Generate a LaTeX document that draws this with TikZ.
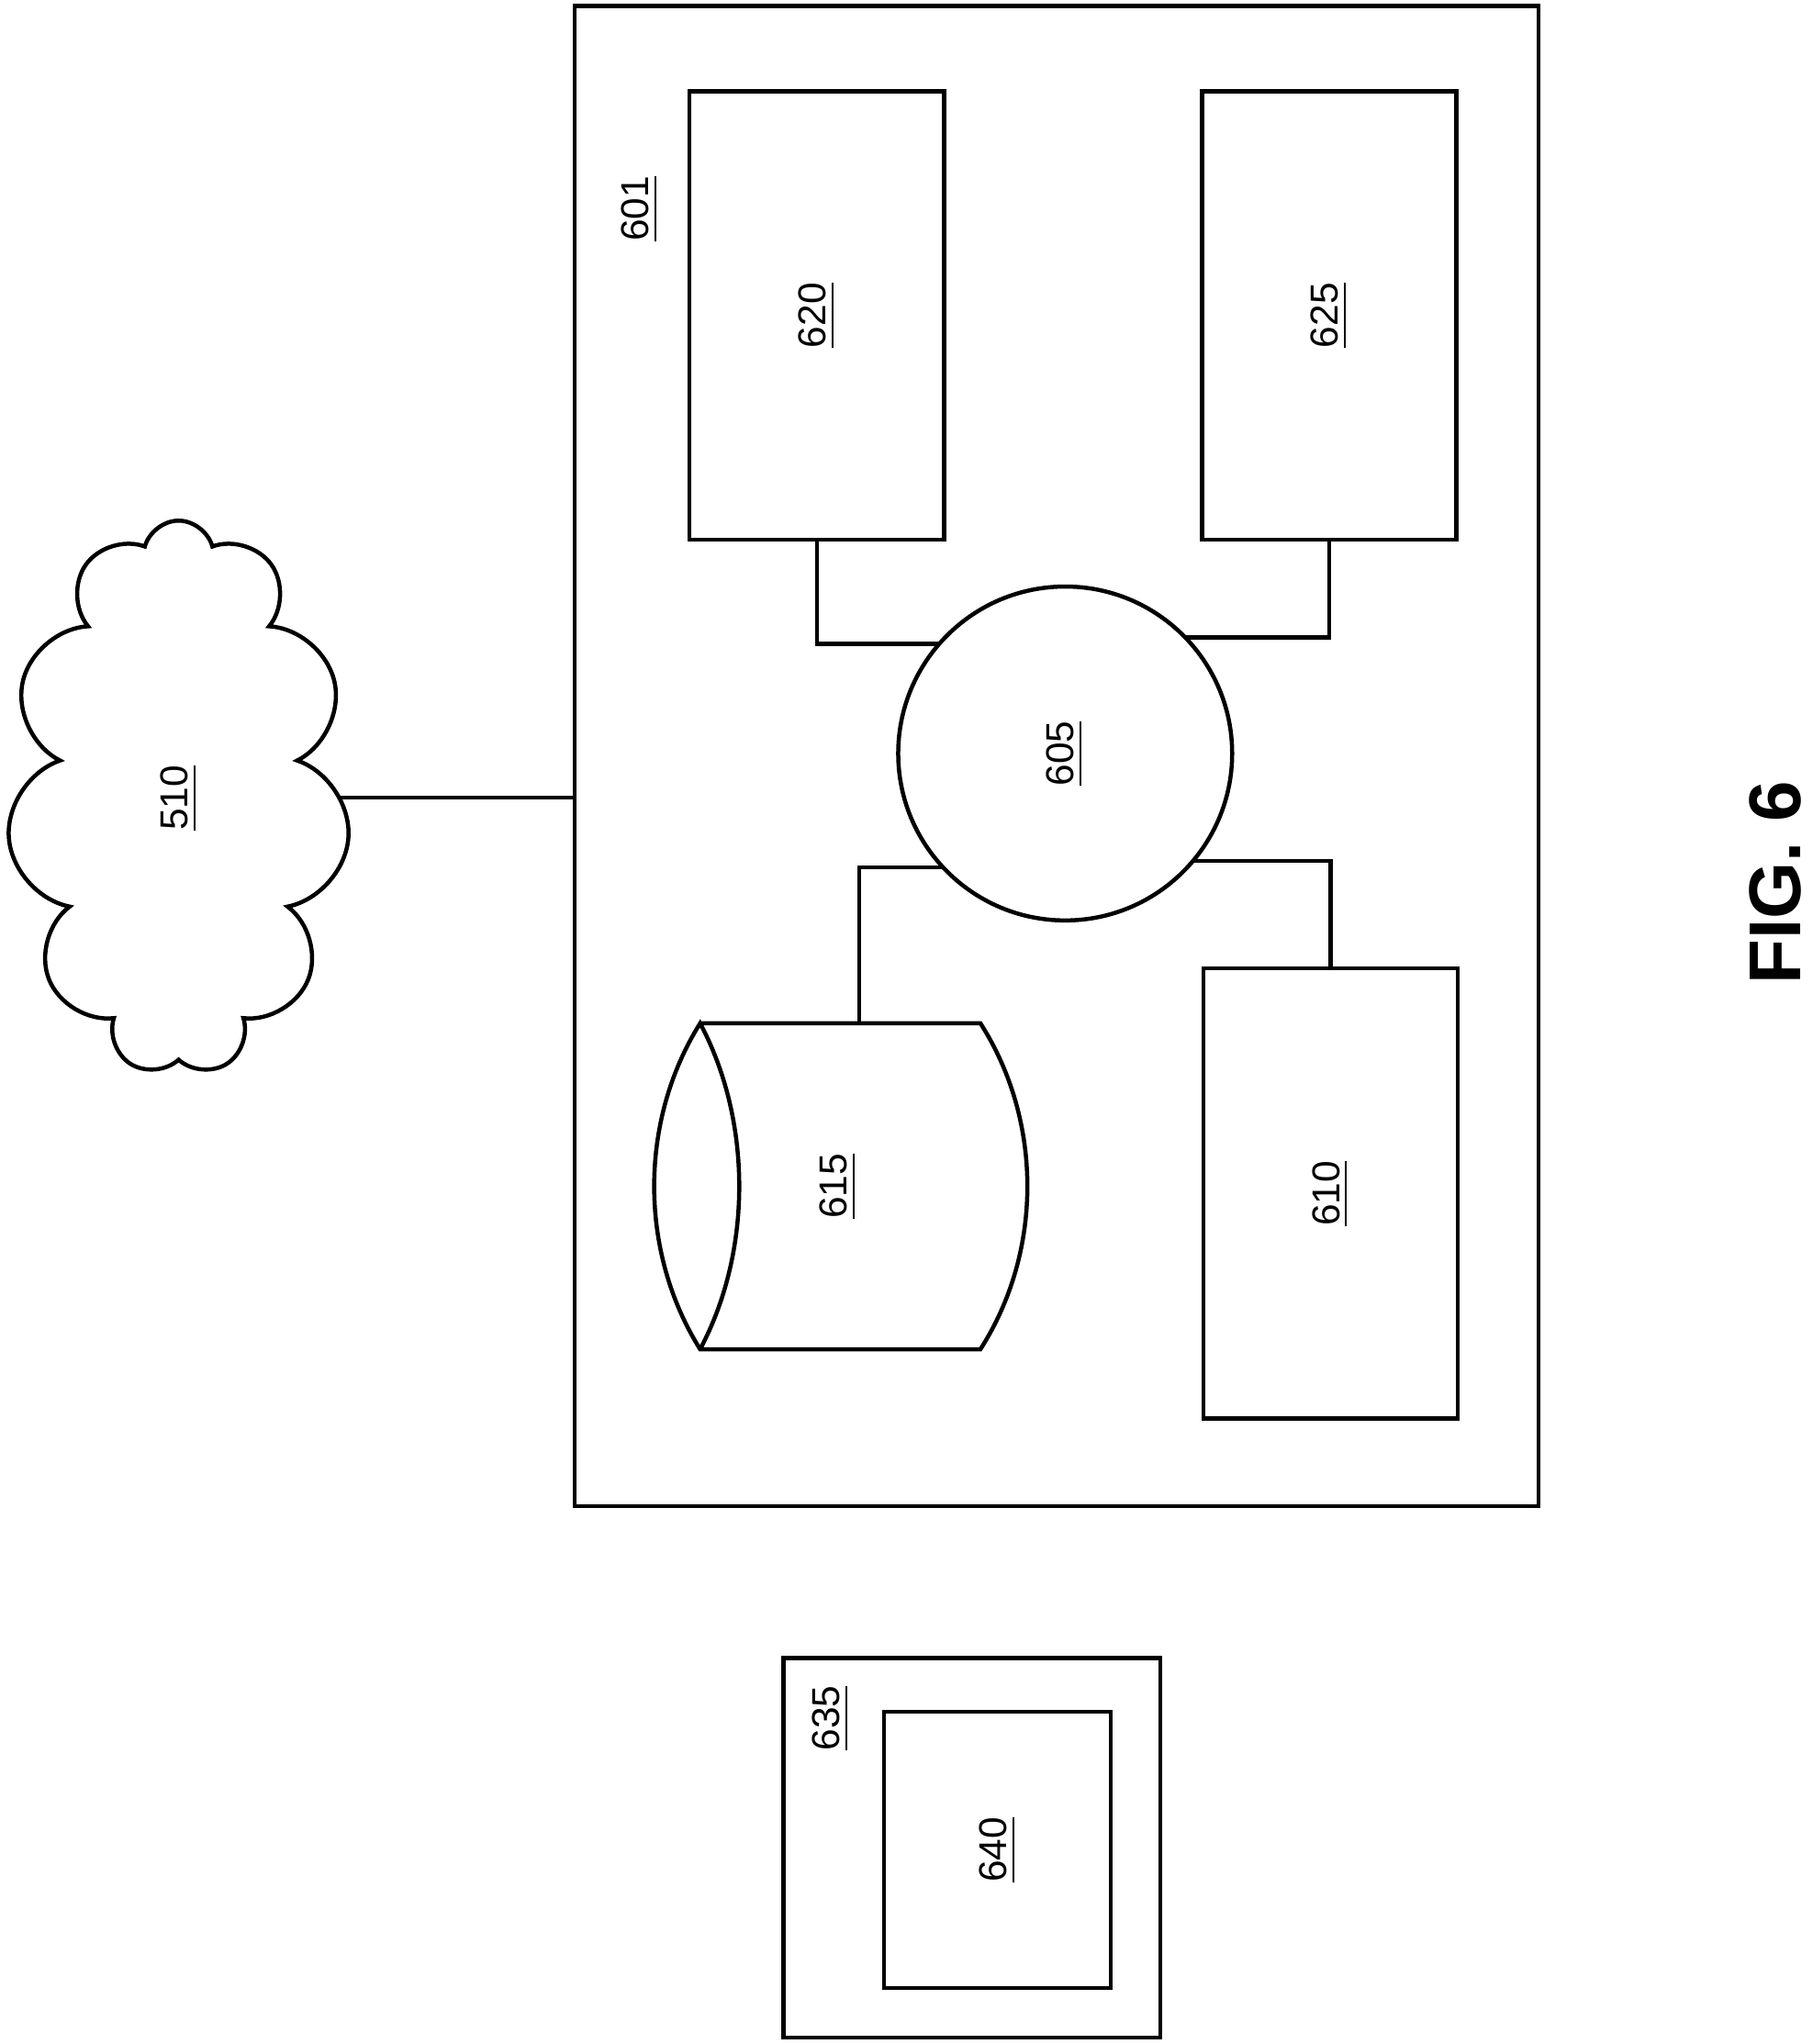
\documentclass[tikz,border=0pt]{standalone}
\usepackage{fontspec}
\setmainfont{Liberation Sans}
\usetikzlibrary{shapes.symbols}
\tikzset{%
  box/.style={draw,line width=0.9pt,inner sep=0pt,outer sep=0pt},
  tag/.style={rotate=90,font=\fontsize{8.5}{10}\selectfont,inner sep=0pt},
  wire/.style={line width=0.9pt}
}
\newcommand\tagtext[1]{\underline{#1}}

\begin{document}
\begin{tikzpicture}[x=0.01cm,y=-0.01cm] % pixel-like units, y downwards

\useasboundingbox (0,0) rectangle (1390,1568);

% outer device
\node[box,minimum width=7.39cm,minimum height=11.5cm] (b601) at (810.5,580) {};
\node[tag] (t601) at (491,160) {\tagtext{601}};

\node[box,minimum width=1.95cm,minimum height=3.44cm] (b620) at (626.5,242) {};
\node[tag] at (b620) {\tagtext{620}};
\node[box,minimum width=1.95cm,minimum height=3.44cm] (b625) at (1019.5,242) {};
\node[tag] at (b625) {\tagtext{625}};
\node[box,minimum width=1.95cm,minimum height=3.45cm] (b610) at (1020.5,915.5) {};
\node[tag] at (b610) {\tagtext{610}};

\node[box,circle,minimum size=2.56cm] (c605) at (817,578) {};
\node[tag] at (c605) {\tagtext{605}};

% storage 615
\draw[wire] (537,785) -- (752,785)
  .. controls (800,860) and (800,960) .. (752,1035) -- (537,1035)
  .. controls (490,960) and (490,860) .. (537,785)
  .. controls (577,860) and (577,960) .. (537,1035);
\coordinate (s615) at (659,785);
\node[tag] at (643,910) {\tagtext{615}};

\draw[wire] (b620.south) |- (c605.139.6);
\draw[wire] (b625.south) |- (c605.44.7);
\draw[wire] (s615) |- (c605.223.4);
\draw[wire] (b610.north) |- (c605.320.2);

% network
\node[box,cloud,cloud puffs=11,cloud ignores aspect,minimum width=2.63cm,minimum height=4.25cm] (n510) at (137,612) {};
\node[tag] at (n510) {\tagtext{510}};
\draw[wire] (n510.east) -- (n510.east -| b601.west);

% client
\node[box,minimum width=2.89cm,minimum height=2.91cm] (b635) at (745.5,1417.5) {};
\node[tag] at (637,1318) {\tagtext{635}};
\node[box,minimum width=1.74cm,minimum height=2.12cm] (b640) at (765,1419) {};
\node[tag] at (b640) {\tagtext{640}};

\node[rotate=90,font=\fontsize{16}{19}\selectfont\bfseries,inner sep=0pt] (fig) at (1362,677) {FIG. 6};

\end{tikzpicture}
\end{document}
